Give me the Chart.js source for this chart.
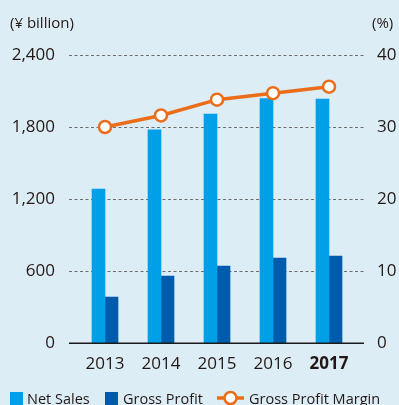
<!DOCTYPE html>
<html>
<head>
<meta charset="utf-8">
<script src="https://cdn.jsdelivr.net/npm/chart.js@4"></script>
<style>
  html, body { margin: 0; padding: 0; background: #dcedf6; }
  #wrap { width: 399px; height: 405px; position: relative; }
</style>
</head>
<body>
<div id="wrap"><canvas id="c" width="399" height="405"></canvas></div>
<script>
// Fiscal years and results
const years = ['2013', '2014', '2015', '2016', '2017'];
const netSales = [1283, 1776, 1908, 2036, 2033];      // ¥ billion
const grossProfit = [383, 558, 642, 708, 725];        // ¥ billion
const grossMargin = [30.0, 31.6, 33.8, 34.7, 35.6];   // %
const amountTicks = [0, 600, 1200, 1800, 2400];
const marginTicks = [0, 10, 20, 30, 40];

const FONT = '"Open Sans", "Noto Sans", sans-serif';
const TEXT = '#231815';
const C_NET = '#00a0e9';
const C_GROSS = '#005bac';
const C_LINE = '#eb6d1a';

// Dashed guide lines, zero baseline, unit captions and legend
const decor = {
  id: 'decor',
  beforeDatasetsDraw(chart) {
    const { ctx, chartArea: a, scales } = chart;
    const y = scales.y;
    const x0 = a.left - 8, x1 = a.right + 7;
    ctx.save();
    ctx.strokeStyle = '#6e6e6e';
    ctx.lineWidth = 1;
    ctx.setLineDash([3, 2.5]);
    amountTicks.forEach(v => {
      if (v === 0) return;
      const py = Math.round(y.getPixelForValue(v)) + 0.5;
      ctx.beginPath(); ctx.moveTo(x0, py); ctx.lineTo(x1, py); ctx.stroke();
    });
    ctx.restore();
  },
  afterDatasetsDraw(chart) {
    const { ctx, chartArea: a, scales } = chart;
    const y = scales.y;
    ctx.save();
    ctx.strokeStyle = '#1a1a1a';
    ctx.lineWidth = 1.4;
    const py = y.getPixelForValue(0) + 0.3;
    ctx.beginPath(); ctx.moveTo(a.left - 8, py); ctx.lineTo(a.right + 7, py); ctx.stroke();
    ctx.restore();
  },
  afterDraw(chart) {
    const { ctx } = chart;
    ctx.save();
    ctx.fillStyle = TEXT;
    ctx.font = '15px ' + FONT;
    ctx.textBaseline = 'alphabetic';
    ctx.textAlign = 'left';
    ctx.fillText('(¥ billion)', 10, 28);
    ctx.fillText('(%)', 372, 28);

    // legend
    const ly = 404;
    ctx.font = '14.5px ' + FONT;
    ctx.fillStyle = C_NET;
    ctx.fillRect(10, 392, 13, 13);
    ctx.fillStyle = TEXT;
    ctx.fillText('Net Sales', 27, ly);
    ctx.fillStyle = C_GROSS;
    ctx.fillRect(105, 392, 13, 13);
    ctx.fillStyle = TEXT;
    ctx.fillText('Gross Profit', 123, ly);
    ctx.strokeStyle = C_LINE;
    ctx.lineWidth = 3.5;
    ctx.beginPath(); ctx.moveTo(217, 398); ctx.lineTo(244, 398); ctx.stroke();
    ctx.beginPath(); ctx.arc(230.5, 398, 6, 0, Math.PI * 2);
    ctx.fillStyle = '#ffffff'; ctx.fill();
    ctx.lineWidth = 2.5; ctx.stroke();
    ctx.fillStyle = TEXT;
    ctx.fillText('Gross Profit Margin', 249, ly);
    ctx.restore();
  }
};

new Chart(document.getElementById('c'), {
  type: 'bar',
  data: {
    labels: years,
    datasets: [
      {
        type: 'line',
        label: 'Gross Profit Margin',
        data: grossMargin,
        yAxisID: 'y2',
        borderColor: C_LINE,
        borderWidth: 3.5,
        pointBackgroundColor: '#ffffff',
        pointBorderColor: C_LINE,
        pointBorderWidth: 2.5,
        pointRadius: 6,
        tension: 0,
        order: 0
      },
      {
        label: 'Net Sales',
        data: netSales,
        backgroundColor: C_NET,
        barThickness: 13,
        yAxisID: 'y',
        order: 1
      },
      {
        label: 'Gross Profit',
        data: grossProfit,
        backgroundColor: C_GROSS,
        barThickness: 13,
        yAxisID: 'y',
        order: 1
      }
    ]
  },
  options: {
    responsive: false,
    animation: false,
    layout: { padding: { top: 55, left: 0, right: 0, bottom: 0 } },
    plugins: { legend: { display: false }, tooltip: { enabled: false } },
    scales: {
      x: {
        grid: { display: false, drawTicks: false },
        border: { display: false },
        ticks: {
          color: TEXT,
          padding: 11,
          font: ctx => ({ family: FONT, size: 17, weight: ctx.index === 4 ? 'bold' : 'normal' })
        },
        afterFit(s) { s.height = 62; }
      },
      y: {
        position: 'left',
        min: 0, max: 2400,
        afterBuildTicks(s) { s.ticks = amountTicks.map(v => ({ value: v })); },
        grid: { display: false, drawTicks: false },
        border: { display: false },
        ticks: {
          color: TEXT,
          padding: 22,
          font: { family: FONT, size: 17 },
          callback: v => v.toLocaleString('en-US')
        },
        afterFit(s) { s.width = 77; }
      },
      y2: {
        position: 'right',
        min: 0, max: 40,
        afterBuildTicks(s) { s.ticks = marginTicks.map(v => ({ value: v })); },
        grid: { display: false, drawTicks: false },
        border: { display: false },
        ticks: {
          color: TEXT,
          padding: 20,
          font: { family: FONT, size: 17 }
        },
        afterFit(s) { s.width = 42; }
      }
    }
  },
  plugins: [decor]
});
</script>
</body>
</html>
